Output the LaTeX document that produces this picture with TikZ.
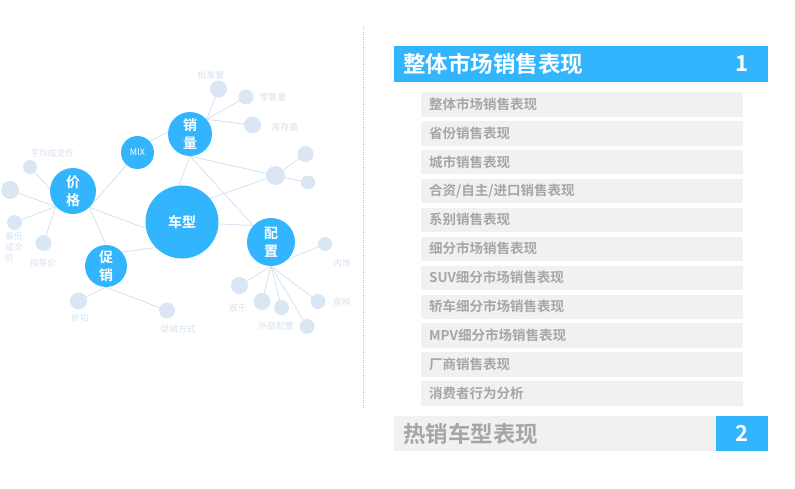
\documentclass[tikz,border=0pt]{standalone}
\usepackage{fontspec}
\setmainfont{Noto Sans CJK SC}[BoldFont={Noto Sans CJK SC Bold}]
\definecolor{cblue}{HTML}{33B5FE}
\definecolor{clight}{HTML}{DAE6F3}
\definecolor{cline}{HTML}{D3E1F1}
\definecolor{clabel}{HTML}{D6E1EE}
\definecolor{cpanel}{HTML}{F1F1F1}
\definecolor{cgraytext}{HTML}{A6A6A6}
\definecolor{cdots}{HTML}{BFBFBF}
\pgfdeclarelayer{bg}
\pgfsetlayers{bg,main}
\begin{document}
\begin{tikzpicture}[x=1pt,y=-1pt,
  bigc/.style={circle, fill=cblue, text=white, inner sep=0pt, align=center,
    font=\bfseries\fontsize{14}{18}\selectfont},
  smallc/.style={circle, fill=clight, inner sep=0pt},
  lbl/.style={text=clabel, inner sep=0pt, font=\fontsize{8.8}{11}\selectfont},
  link/.style={draw=cline, line width=0.8pt},
  header/.style={fill=cblue, minimum height=36pt, inner sep=0pt},
  item/.style={fill=cpanel, minimum width=322pt, minimum height=24.5pt, inner sep=0pt},
  itemtext/.style={text=cgraytext, inner sep=0pt, anchor=west, font=\bfseries\fontsize{13.5}{15}\selectfont},
  headtext/.style={inner sep=0pt, anchor=west, font=\bfseries\fontsize{22.5}{24}\selectfont},
  numtext/.style={text=white, inner sep=0pt, font=\bfseries\fontsize{22}{24}\selectfont}
]
\useasboundingbox (0,0) rectangle (795,489);

% ---------- small light circles ----------
\node[smallc, minimum size=17pt] (pf) at (218.5,89) {};
\node[smallc, minimum size=15pt] (ls) at (246,97) {};
\node[smallc, minimum size=17pt] (kc) at (252.5,125) {};
\node[smallc, minimum size=19pt] (g1) at (275.5,175.5) {};
\node[smallc, minimum size=16pt] (g2) at (305.5,154) {};
\node[smallc, minimum size=14pt] (g3) at (308,182.5) {};
\node[smallc, minimum size=14pt] (pj) at (30,167) {};
\node[smallc, minimum size=18pt] (p2) at (10,190) {};
\node[smallc, minimum size=15pt] (zd) at (14.5,222.5) {};
\node[smallc, minimum size=16pt] (zdj) at (43.5,243) {};
\node[smallc, minimum size=17pt] (zk) at (78.5,301) {};
\node[smallc, minimum size=16pt] (cxfs) at (167,310.5) {};
\node[smallc, minimum size=14pt] (ns) at (325,244) {};
\node[smallc, minimum size=17pt] (yl) at (239.5,285.5) {};
\node[smallc, minimum size=17pt] (w1) at (262,301.5) {};
\node[smallc, minimum size=15pt] (w2) at (281.5,307.5) {};
\node[smallc, minimum size=15pt] (w3) at (307,326.5) {};
\node[smallc, minimum size=15pt] (zy) at (318,301.5) {};

% ---------- big blue circles ----------
\node[bigc, minimum size=73pt] (cx) at (182,222) {车型};
\node[bigc, minimum size=44pt] (xl) at (190,134) {销\\量};
\node[bigc, minimum size=33pt, font=\fontsize{9}{10}\selectfont] (mix) at (137.5,152.5) {MIX};
\node[bigc, minimum size=46pt] (jg) at (73,191) {价\\格};
\node[bigc, minimum size=42pt] (cu) at (106,266) {促\\销};
\node[bigc, minimum size=48pt] (pz) at (271,242) {配\\置};

% ---------- connectors (behind the circles) ----------
\coordinate (xlhub) at (xl.41);
\coordinate (xlbot) at (xl.south);
\coordinate (jghubL) at (jg.222);
\coordinate (jghubR) at (jg.-45);
\coordinate (cuhub) at (cu.south);
\coordinate (pzhub) at (pz.south);
\coordinate (pzin) at (pz.137);

\begin{pgfonlayer}{bg}
\draw[link] (xlhub) -- (pf.center);
\draw[link] (xlhub) -- (ls.center);
\draw[link] (xlhub) -- (kc.center);
\draw[link] (xlbot) -- (cx.95);
\draw[link] (xlbot) -- (pzin);
\draw[link] (xlbot) -- (g1.center);
\draw[link] (cx.40) -- (g1.center);
\draw[link] (g1.center) -- (g2.center);
\draw[link] (g1.center) -- (g3.center);
\draw[link] (mix.41) -- (xl.175);
\draw[link] (jghubR) -- (mix.center);
\draw[link] (jghubR) -- (cx.190);
\draw[link] (jghubR) -- (cu.north);
\draw[link] (pj.center) -- (jg.175);
\draw[link] (jghubL) -- (p2.center);
\draw[link] (jghubL) -- (zd.center);
\draw[link] (jghubL) -- (zdj.center);
\draw[link] (cu.41) -- (cx.224);
\draw[link] (cuhub) -- (zk.center);
\draw[link] (cuhub) -- (cxfs.center);
\draw[link] (cx.-3) -- (pzin);
\draw[link] (pzhub) -- (ns.center);
\draw[link] (pzhub) -- (yl.center);
\draw[link] (pzhub) -- (w1.center);
\draw[link] (pzhub) -- (w2.center);
\draw[link] (pzhub) -- (w3.center);
\draw[link] (pzhub) -- (zy.center);
\end{pgfonlayer}

% ---------- labels ----------
\node[lbl] (lpf) at (211,75) {批发量};
\node[lbl] (lls) at (273,97) {零售量};
\node[lbl] (lkc) at (285,127) {库存量};
\node[lbl] (lpj) at (52,153) {平均成交价};
\node[lbl, align=left, anchor=north west] (lzd) at (5,231.5) {最低\\成交\\价};
\node[lbl] (lzdj) at (43,263) {指导价};
\node[lbl] (lzk) at (80,318) {折扣};
\node[lbl] (lcxfs) at (178,329) {促销方式};
\node[lbl] (lns) at (342,263) {内饰};
\node[lbl] (lyl) at (238,308) {娱乐};
\node[lbl] (lwb) at (276,326) {外部配置};
\node[lbl] (lzy) at (342,302) {座椅};

% ---------- dotted separator ----------
\draw[cdots, line width=0.8pt, dash pattern=on 1pt off 1.5pt] (363,27) -- (363,408);

% ---------- right panel ----------
\node[header, minimum width=374pt, anchor=north west] (h1) at (394,46) {};
\node[headtext, text=white] (h1t) at (403,64) {整体市场销售表现};
\node[numtext] (h1n) at (742,64) {1};

\foreach \t [count=\i from 0] in {整体市场销售表现, 省份销售表现, 城市销售表现,
  合资/自主/进口销售表现, 系别销售表现, 细分市场销售表现, SUV细分市场销售表现,
  轿车细分市场销售表现, MPV细分市场销售表现, 厂商销售表现, 消费者行为分析}{
  \node[item, anchor=north west] (it\i) at (421,{92+\i*28.9}) {};
  \node[itemtext] (itt\i) at (429,{104.25+\i*28.9}) {\t};
}

\node[fill=cpanel, minimum width=322pt, minimum height=35pt, inner sep=0pt, anchor=north west] (h2) at (394,416) {};
\node[header, minimum width=52pt, minimum height=35pt, anchor=north west] (h2b) at (716,416) {};
\node[headtext, text=cgraytext] (h2t) at (403,433.5) {热销车型表现};
\node[numtext] (h2n) at (742,433.5) {2};
\end{tikzpicture}
\end{document}
